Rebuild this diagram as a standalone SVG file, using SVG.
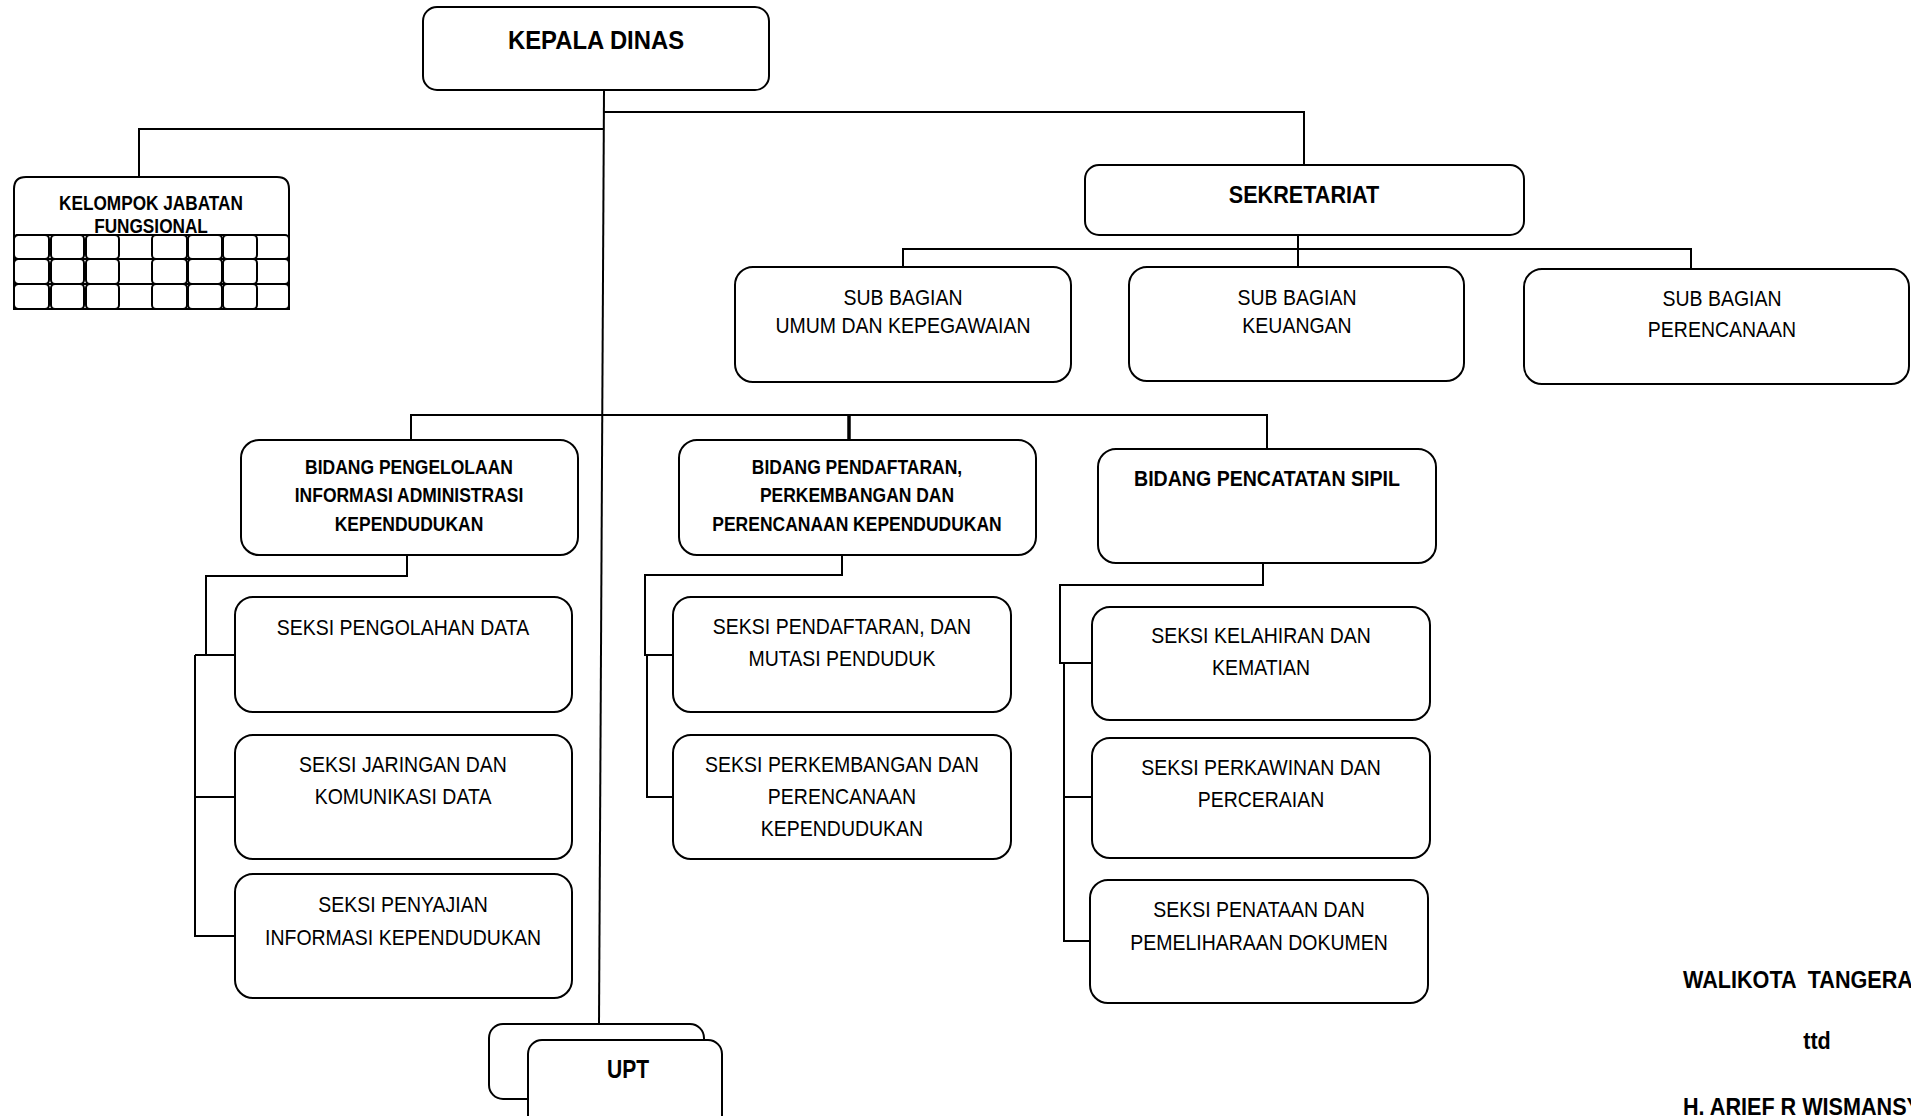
<svg xmlns="http://www.w3.org/2000/svg" width="1911" height="1116" viewBox="0 0 1911 1116">
<style>
  .box { fill: #ffffff; stroke: #000000; stroke-width: 2; }
  .cell { fill: none; stroke: #000000; stroke-width: 2; }
  .con { fill: none; stroke: #000000; stroke-width: 2; }
  text { font-family: "Liberation Sans", Arial, sans-serif; fill: #000000; text-anchor: middle; }
  .b { font-weight: bold; }
  .r { font-size: 22px; }
  .bd { font-size: 21px; font-weight: bold; }
  .sig { font-size: 24px; font-weight: bold; text-anchor: start; white-space: pre; }
</style>
<rect x="0" y="0" width="1911" height="1116" fill="#ffffff"/>

<g id="connectors">
  <path class="con" d="M604 90 L599 1024"/>
  <path class="con" d="M604 112 H1304 V165"/>
  <path class="con" d="M604 129 H139 V177"/>
  <path class="con" d="M1298 235 V267"/>
  <path class="con" d="M903 267 V249 H1691 V269"/>
  <path class="con" d="M411 440 V415 H1267 V449"/>
  <path class="con" d="M849 415 V440" style="stroke-width:3.5"/>
  <path class="con" d="M407 555 V576 H206 V655"/>
  <path class="con" d="M195 655 H235"/>
  <path class="con" d="M195 655 V936 H235"/>
  <path class="con" d="M195 797 H235"/>
  <path class="con" d="M842 555 V575 H645 V655 H673"/>
  <path class="con" d="M647 655 V797 H673"/>
  <path class="con" d="M1263 563 V585 H1060 V663 H1092"/>
  <path class="con" d="M1064 663 V941 H1090"/>
  <path class="con" d="M1064 797 H1092"/>
</g>

<g id="kepala-dinas">
  <rect class="box" x="423" y="7" width="346" height="83" rx="14"/>
  <text class="b" font-size="26.5" transform="translate(596,49) scale(0.9,1)">KEPALA DINAS</text>
</g>

<g id="kelompok-jabatan-fungsional">
  <path class="box" d="M14 309 V189 Q14 177 26 177 H277 Q289 177 289 189 V309 Z"/>
  <text class="bd" transform="translate(151,210) scale(0.82,1)">KELOMPOK JABATAN</text>
  <text class="bd" transform="translate(151,233) scale(0.82,1)">FUNGSIONAL</text>
  <rect class="cell" x="14" y="235" width="275" height="24" rx="4"/>
  <rect class="cell" x="14" y="259" width="275" height="25" rx="4"/>
  <rect class="cell" x="14" y="284" width="275" height="25" rx="4"/>
  <g>
    <rect class="cell" x="14" y="235" width="35" height="24" rx="4"/>
    <rect class="cell" x="51" y="235" width="33" height="24" rx="4"/>
    <rect class="cell" x="86" y="235" width="33" height="24" rx="4"/>
    <rect class="cell" x="152" y="235" width="35" height="24" rx="4"/>
    <rect class="cell" x="188" y="235" width="34" height="24" rx="4"/>
    <rect class="cell" x="223" y="235" width="34" height="24" rx="4"/>
    <rect class="cell" x="14" y="259" width="35" height="25" rx="4"/>
    <rect class="cell" x="51" y="259" width="33" height="25" rx="4"/>
    <rect class="cell" x="86" y="259" width="33" height="25" rx="4"/>
    <rect class="cell" x="152" y="259" width="35" height="25" rx="4"/>
    <rect class="cell" x="188" y="259" width="34" height="25" rx="4"/>
    <rect class="cell" x="223" y="259" width="34" height="25" rx="4"/>
    <rect class="cell" x="14" y="284" width="35" height="25" rx="4"/>
    <rect class="cell" x="51" y="284" width="33" height="25" rx="4"/>
    <rect class="cell" x="86" y="284" width="33" height="25" rx="4"/>
    <rect class="cell" x="152" y="284" width="35" height="25" rx="4"/>
    <rect class="cell" x="188" y="284" width="34" height="25" rx="4"/>
    <rect class="cell" x="223" y="284" width="34" height="25" rx="4"/>
  </g>
</g>

<g id="sekretariat">
  <rect class="box" x="1085" y="165" width="439" height="70" rx="14"/>
  <text class="b" font-size="23" transform="translate(1304,203) scale(0.94,1)">SEKRETARIAT</text>
</g>

<g id="sub-bagian-umum">
  <rect class="box" x="735" y="267" width="336" height="115" rx="18"/>
  <text class="r" transform="translate(903,305) scale(0.886,1)">SUB BAGIAN</text>
  <text class="r" transform="translate(903,333) scale(0.886,1)">UMUM DAN KEPEGAWAIAN</text>
</g>

<g id="sub-bagian-keuangan">
  <rect class="box" x="1129" y="267" width="335" height="114" rx="18"/>
  <text class="r" transform="translate(1297,305) scale(0.886,1)">SUB BAGIAN</text>
  <text class="r" transform="translate(1297,333) scale(0.886,1)">KEUANGAN</text>
</g>

<g id="sub-bagian-perencanaan">
  <rect class="box" x="1524" y="269" width="385" height="115" rx="18"/>
  <text class="r" transform="translate(1722,306) scale(0.886,1)">SUB BAGIAN</text>
  <text class="r" transform="translate(1722,337) scale(0.886,1)">PERENCANAAN</text>
</g>

<g id="bidang-pengelolaan">
  <rect class="box" x="241" y="440" width="337" height="115" rx="18"/>
  <text class="bd" transform="translate(409,474) scale(0.833,1)">BIDANG PENGELOLAAN</text>
  <text class="bd" transform="translate(409,502) scale(0.833,1)">INFORMASI ADMINISTRASI</text>
  <text class="bd" transform="translate(409,531) scale(0.833,1)">KEPENDUDUKAN</text>
</g>

<g id="bidang-pendaftaran">
  <rect class="box" x="679" y="440" width="357" height="115" rx="18"/>
  <text class="bd" transform="translate(857,474) scale(0.833,1)">BIDANG PENDAFTARAN,</text>
  <text class="bd" transform="translate(857,502) scale(0.833,1)">PERKEMBANGAN DAN</text>
  <text class="bd" transform="translate(857,531) scale(0.833,1)">PERENCANAAN KEPENDUDUKAN</text>
</g>

<g id="bidang-pencatatan-sipil">
  <rect class="box" x="1098" y="449" width="338" height="114" rx="18"/>
  <text class="b" font-size="22" transform="translate(1267,486) scale(0.89,1)">BIDANG PENCATATAN SIPIL</text>
</g>

<g id="seksi-pengolahan-data">
  <rect class="box" x="235" y="597" width="337" height="115" rx="18"/>
  <text class="r" transform="translate(403,635) scale(0.886,1)">SEKSI PENGOLAHAN DATA</text>
</g>

<g id="seksi-jaringan">
  <rect class="box" x="235" y="735" width="337" height="124" rx="18"/>
  <text class="r" transform="translate(403,772) scale(0.886,1)">SEKSI JARINGAN DAN</text>
  <text class="r" transform="translate(403,804) scale(0.886,1)">KOMUNIKASI DATA</text>
</g>

<g id="seksi-penyajian">
  <rect class="box" x="235" y="874" width="337" height="124" rx="18"/>
  <text class="r" transform="translate(403,912) scale(0.886,1)">SEKSI PENYAJIAN</text>
  <text class="r" transform="translate(403,945) scale(0.886,1)">INFORMASI KEPENDUDUKAN</text>
</g>

<g id="seksi-pendaftaran">
  <rect class="box" x="673" y="597" width="338" height="115" rx="18"/>
  <text class="r" transform="translate(842,634) scale(0.886,1)">SEKSI PENDAFTARAN, DAN</text>
  <text class="r" transform="translate(842,666) scale(0.886,1)">MUTASI PENDUDUK</text>
</g>

<g id="seksi-perkembangan">
  <rect class="box" x="673" y="735" width="338" height="124" rx="18"/>
  <text class="r" transform="translate(842,772) scale(0.886,1)">SEKSI PERKEMBANGAN DAN</text>
  <text class="r" transform="translate(842,804) scale(0.886,1)">PERENCANAAN</text>
  <text class="r" transform="translate(842,836) scale(0.886,1)">KEPENDUDUKAN</text>
</g>

<g id="seksi-kelahiran">
  <rect class="box" x="1092" y="607" width="338" height="113" rx="18"/>
  <text class="r" transform="translate(1261,643) scale(0.886,1)">SEKSI KELAHIRAN DAN</text>
  <text class="r" transform="translate(1261,675) scale(0.886,1)">KEMATIAN</text>
</g>

<g id="seksi-perkawinan">
  <rect class="box" x="1092" y="738" width="338" height="120" rx="18"/>
  <text class="r" transform="translate(1261,775) scale(0.886,1)">SEKSI PERKAWINAN DAN</text>
  <text class="r" transform="translate(1261,807) scale(0.886,1)">PERCERAIAN</text>
</g>

<g id="seksi-penataan">
  <rect class="box" x="1090" y="880" width="338" height="123" rx="18"/>
  <text class="r" transform="translate(1259,917) scale(0.886,1)">SEKSI PENATAAN DAN</text>
  <text class="r" transform="translate(1259,950) scale(0.886,1)">PEMELIHARAAN DOKUMEN</text>
</g>

<g id="upt">
  <rect class="box" x="489" y="1024" width="215" height="75" rx="14"/>
  <rect class="box" x="528" y="1040" width="194" height="90" rx="14"/>
  <text class="b" font-size="26" transform="translate(628,1078) scale(0.81,1)">UPT</text>
</g>

<g id="signature">
  <text class="sig" transform="translate(1683,988) scale(0.9,1)">WALIKOTA  TANGERANG</text>
  <text class="b" font-size="24" transform="translate(1817,1049) scale(0.9,1)">ttd</text>
  <text class="sig" transform="translate(1683,1115) scale(0.9,1)">H. ARIEF R WISMANSYAH</text>
</g>
</svg>
